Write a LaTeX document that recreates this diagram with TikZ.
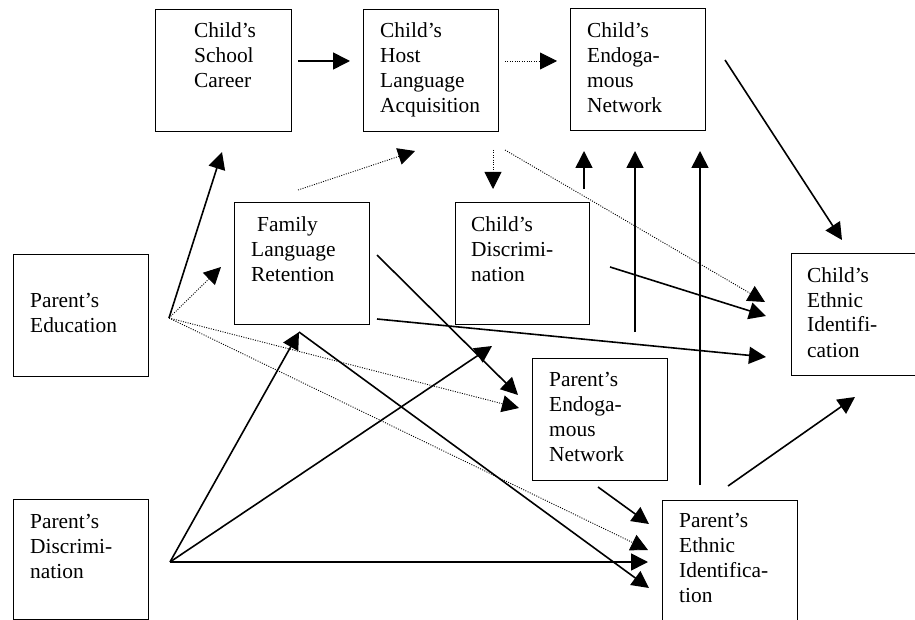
\documentclass[tikz,border=0pt]{standalone}
\usepackage{fontspec}
\setmainfont{Liberation Serif}
\usetikzlibrary{arrows.meta,calc}
\begin{document}
\begin{tikzpicture}[x=1pt,y=-1pt,
  box/.style={draw,line width=1.3pt,anchor=north west,inner sep=0pt},
  txt/.style={anchor=base west,inner sep=0pt,align=left,text width=125pt,
    font=\fontsize{21.4}{25}\selectfont},
  arr/.style={line width=1.6pt,-{Triangle[length=17pt,width=17pt]}},
  dot/.style={line width=0.9pt,dash pattern=on 1pt off 1.4pt,-{Triangle[length=17pt,width=17pt]}}]
\useasboundingbox (0,0) rectangle (915,620);
% boxes
\node[box,minimum width=136pt,minimum height=122pt] (sc)  at (155,9) {};
\node[box,minimum width=135pt,minimum height=122pt] (hla) at (363,9) {};
\node[box,minimum width=135pt,minimum height=122pt] (cen) at (570,8) {};
\node[box,minimum width=135pt,minimum height=122pt] (flr) at (234,202) {};
\node[box,minimum width=134pt,minimum height=122pt] (cd)  at (455,202) {};
\node[box,minimum width=124pt,minimum height=122pt] (cei) at (791,253) {};
\node[box,minimum width=135pt,minimum height=122pt] (pe)  at (13,254) {};
\node[box,minimum width=135pt,minimum height=120pt] (pd)  at (13,499) {};
\node[box,minimum width=135pt,minimum height=122pt] (pen) at (532,358) {};
\node[box,minimum width=135pt,minimum height=120pt] (pei) at (662,500) {};
% texts
\node[txt] (sc-t)  at ($(sc.north west)+(39,29)$)  {Child’s\\School\\Career};
\node[txt] (hla-t) at ($(hla.north west)+(17,29)$) {Child’s\\Host\\Language\\Acquisition};
\node[txt] (cen-t) at ($(cen.north west)+(17,30)$) {Child’s\\Endoga-\\mous\\Network};
\node[txt] (flr-t) at ($(flr.north west)+(17,30)$) {\hspace*{6pt}Family\\Language\\Retention};
\node[txt] (cd-t)  at ($(cd.north west)+(16,30)$)  {Child’s\\Discrimi-\\nation};
\node[txt] (cei-t) at ($(cei.north west)+(16,29)$) {Child’s\\Ethnic\\Identifi-\\cation};
\node[txt] (pe-t)  at ($(pe.north west)+(17,53)$)  {Parent’s\\Education};
\node[txt] (pd-t)  at ($(pd.north west)+(17,29)$)  {Parent’s\\Discrimi-\\nation};
\node[txt] (pen-t) at ($(pen.north west)+(17,28)$) {Parent’s\\Endoga-\\mous\\Network};
\node[txt] (pei-t) at ($(pei.north west)+(17,27)$) {Parent’s\\Ethnic\\Identifica-\\tion};
% connector points
\coordinate (peH) at (169,318);
\coordinate (pdH) at (170,562);
\coordinate (flrB) at (299,332);
\coordinate (sc1) at (298,61);   \coordinate (hla1) at (350,61);
\coordinate (hla2) at (505,61);  \coordinate (cen1) at (557,61);
\coordinate (sc2) at (222,152);
\coordinate (flr1) at (221,267);
\coordinate (flr2) at (298,190); \coordinate (hla3) at (415,151);
\coordinate (hla4) at (493,150); \coordinate (cd1) at (493,189);
\coordinate (hla5) at (505,150); \coordinate (cei1) at (765,302);
\coordinate (cd2) at (584,189);  \coordinate (cen2) at (584,151);
\coordinate (pen1) at (635,332); \coordinate (cen3) at (635,151);
\coordinate (pei1) at (700,485); \coordinate (cen4) at (700,151);
\coordinate (cen5) at (725,60);  \coordinate (cei2) at (842,240);
\coordinate (cd3) at (610,267);  \coordinate (cei3) at (766,316);
\coordinate (flr3) at (377,319); \coordinate (cei4) at (766,357);
\coordinate (flr4) at (377,255); \coordinate (pen2) at (518,395);
\coordinate (pen3) at (519,408);
\coordinate (pei2) at (648,550);
\coordinate (cd4) at (492,346);
\coordinate (pei3) at (648,562);
\coordinate (pei4) at (649,588);
\coordinate (pen4) at (598,487); \coordinate (pei5) at (649,524);
\coordinate (pei6) at (728,486); \coordinate (cei5) at (855,397);
% connectors
\draw[arr] (sc1) -- (hla1);
\draw[dot] (hla2) -- (cen1);
\draw[arr] (peH) -- (sc2);
\draw[dot] (peH) -- (flr1);
\draw[dot] (flr2) -- (hla3);
\draw[dot] (hla4) -- (cd1);
\draw[dot] (hla5) -- (cei1);
\draw[arr] (cd2) -- (cen2);
\draw[arr] (pen1) -- (cen3);
\draw[arr] (pei1) -- (cen4);
\draw[arr] (cen5) -- (cei2);
\draw[arr] (cd3) -- (cei3);
\draw[arr] (flr3) -- (cei4);
\draw[arr] (flr4) -- (pen2);
\draw[dot] (peH) -- (pen3);
\draw[dot] (peH) -- (pei2);
\draw[arr] (pdH) -- (flrB);
\draw[arr] (pdH) -- (cd4);
\draw[arr] (pdH) -- (pei3);
\draw[arr] (flrB) -- (pei4);
\draw[arr] (pen4) -- (pei5);
\draw[arr] (pei6) -- (cei5);
\end{tikzpicture}
\end{document}
